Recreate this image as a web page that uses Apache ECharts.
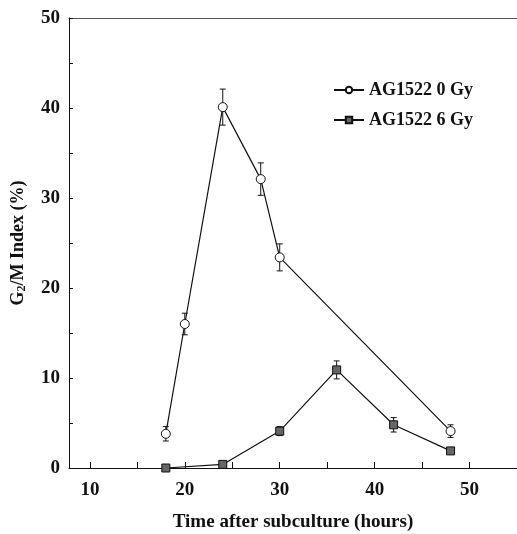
<!DOCTYPE html>
<html>
<head>
<meta charset="utf-8">
<script src="https://cdn.jsdelivr.net/npm/echarts@6/dist/echarts.min.js"></script>
<style>
  html, body { margin: 0; padding: 0; background: #fff; }
  #chart { width: 517px; height: 534px; }
</style>
</head>
<body>
<div id="chart"></div>
<script>
var dom = document.getElementById('chart');
var myChart = echarts.init(dom, null, { renderer: 'canvas' });

// data
const time0 = [18, 20, 24, 28, 30, 48];
const index0 = [3.8, 16, 40.1, 32.1, 23.4, 4.1];
const err0 = [0.8, 1.2, 2.0, 1.8, 1.5, 0.7];

const time6 = [18, 24, 30, 36, 42, 48];
const index6 = [0, 0.4, 4.1, 10.9, 4.8, 1.9];
const err6 = [0, 0, 0.5, 1.0, 0.8, 0];

const xTicks = [10, 15, 20, 25, 30, 35, 40, 45, 50];
const xLabels = [10, 20, 30, 40, 50];

const font = 'Liberation Serif';

function pairs(xs, ys) {
    return xs.map((x, i) => [x, ys[i]]);
}
function errData(xs, ys, es) {
    return xs.map((x, i) => [x, ys[i] - es[i], ys[i] + es[i]]).filter((d, i) => es[i] > 0);
}

function renderErr(params, api) {
    var x = api.value(0);
    var lo = api.coord([x, api.value(1)]);
    var hi = api.coord([x, api.value(2)]);
    var w = 3;
    var st = { stroke: '#111', lineWidth: 1 };
    return {
        type: 'group',
        children: [
            { type: 'line', shape: { x1: lo[0], y1: lo[1], x2: hi[0], y2: hi[1] }, style: st },
            { type: 'line', shape: { x1: lo[0] - w, y1: lo[1], x2: lo[0] + w, y2: lo[1] }, style: st },
            { type: 'line', shape: { x1: hi[0] - w, y1: hi[1], x2: hi[0] + w, y2: hi[1] }, style: st }
        ]
    };
}

var option = {
    animation: false,
    grid: { left: 69, right: 0, top: 18, bottom: 66, outerBoundsMode: 'none' },
    legend: {
        left: 328,
        top: 76,
        orient: 'vertical',
        itemWidth: 30,
        itemHeight: 8,
        itemGap: 12,
        textStyle: { fontFamily: font, fontWeight: 'bold', fontSize: 18, color: '#111' },
        data: ['AG1522 0 Gy', 'AG1522 6 Gy']
    },
    xAxis: [
        {
            type: 'value',
            min: 7.8,
            max: 55,
            name: 'Time after subculture (hours)',
            nameLocation: 'middle',
            nameGap: 45,
            nameTextStyle: { fontFamily: font, fontWeight: 'bold', fontSize: 19, color: '#111' },
            axisLine: { show: true, lineStyle: { color: '#111', width: 1 } },
            axisTick: { show: true, inside: true, length: 6, customValues: xTicks, lineStyle: { color: '#111' } },
            axisLabel: { customValues: xLabels, margin: 13, fontFamily: font, fontWeight: 'bold', fontSize: 19, color: '#111' },
            splitLine: { show: false }
        },
        {
            type: 'value',
            position: 'top',
            min: 7.8,
            max: 55,
            axisLine: { show: true, lineStyle: { color: '#555', width: 1 } },
            axisTick: { show: false },
            axisLabel: { show: false },
            splitLine: { show: false }
        }
    ],
    yAxis: {
        type: 'value',
        min: 0,
        max: 50,
        interval: 5,
        name: '{a|G}{b|2}{a|/M Index (%)}',
        nameLocation: 'middle',
        nameGap: 41,
        nameTextStyle: {
            rich: {
                a: { fontFamily: font, fontWeight: 'bold', fontSize: 18, color: '#111' },
                b: { fontFamily: font, fontWeight: 'bold', fontSize: 12, color: '#111', padding: [7, 0, 0, 0] }
            }
        },
        axisLine: { show: true, lineStyle: { color: '#111', width: 1 } },
        axisTick: { show: true, inside: true, length: 4, lineStyle: { color: '#111' } },
        axisLabel: {
            margin: 9,
            fontFamily: font, fontWeight: 'bold', fontSize: 19, color: '#111',
            formatter: function (v) { return v % 10 === 0 ? v : ''; }
        },
        splitLine: { show: false }
    },
    series: [
        {
            name: 'AG1522 0 Gy',
            type: 'line',
            data: pairs(time0, index0),
            symbol: 'circle',
            symbolSize: 9,
            z: 3,
            itemStyle: { color: '#fff', borderColor: '#111', borderWidth: 1 },
            lineStyle: { color: '#111', width: 1.2 }
        },
        {
            name: 'AG1522 6 Gy',
            type: 'line',
            data: pairs(time6, index6),
            symbol: 'rect',
            symbolSize: 8,
            z: 3,
            itemStyle: { color: '#666', borderColor: '#111', borderWidth: 1 },
            lineStyle: { color: '#111', width: 1.2 }
        },
        {
            type: 'custom',
            renderItem: renderErr,
            data: errData(time0, index0, err0),
            z: 2,
            silent: true
        },
        {
            type: 'custom',
            renderItem: renderErr,
            data: errData(time6, index6, err6),
            z: 2,
            silent: true
        }
    ]
};

myChart.setOption(option);
window.addEventListener('resize', myChart.resize);
</script>
</body>
</html>
